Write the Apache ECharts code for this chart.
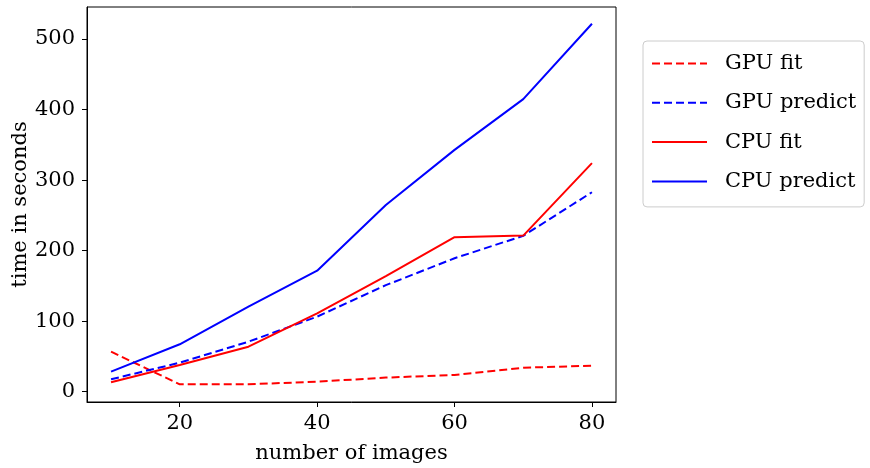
<!DOCTYPE html>
<html>
<head>
<meta charset="utf-8">
<script src="https://cdn.jsdelivr.net/npm/echarts@6/dist/echarts.min.js"></script>
<style>
  html, body { margin: 0; padding: 0; background: #fff; }
  #chart { width: 870px; height: 468px; }
</style>
</head>
<body>
<div id="chart"></div>
<script>
  // number of images
  const images = [10, 20, 30, 40, 50, 60, 70, 80];
  // time in seconds
  const gpuFit = [56.7, 10.5, 10.5, 14.2, 20, 23.7, 34, 36.9];
  const gpuPredict = [17.6, 41.1, 70.9, 106.4, 151, 189.2, 221, 282.8];
  const cpuFit = [13.3, 37.9, 63.8, 111, 164, 219, 221.3, 324];
  const cpuPredict = [28.4, 67.2, 120.6, 171.6, 264.8, 342.8, 414.8, 521.6];
  const xTicks = [20, 40, 60, 80];
  const yTicks = [0, 100, 200, 300, 400, 500];

  const font = 'DejaVu Serif';

  function pairs(ys) {
    return images.map((x, i) => [x, ys[i]]);
  }

  function line(name, ys, color, dashed) {
    return {
      name: name,
      type: 'line',
      data: pairs(ys),
      symbol: 'none',
      showSymbol: false,
      lineStyle: { color: color, width: 2, type: dashed ? [8, 4] : 'solid' },
      itemStyle: { color: color },
      emphasis: { disabled: true }
    };
  }

  let myChart = echarts.init(document.getElementById('chart'));

  myChart.setOption({
    animation: false,
    grid: {
      left: 87, top: 7, right: 254, bottom: 66,
      containLabel: false,
      outerBoundsMode: 'none',
      show: true, borderColor: '#000', borderWidth: 1, backgroundColor: 'transparent'
    },
    legend: {
      orient: 'vertical',
      left: 643, top: 41,
      width: 226,
      padding: [12, 8, 15, 8],
      itemGap: 18.3,
      itemWidth: 55,
      itemHeight: 14,
      borderColor: '#cccccc',
      borderWidth: 1,
      borderRadius: 4,
      backgroundColor: '#fff',
      // hide the circle that line series put in their legend icon
      itemStyle: { color: 'transparent', borderColor: 'transparent', borderWidth: 0, opacity: 0 },
      textStyle: { fontFamily: font, fontSize: 21, color: '#000', padding: [0, 10, 0, 13] },
      data: ['GPU fit', 'GPU predict', 'CPU fit', 'CPU predict']
    },
    xAxis: {
      type: 'value',
      min: 6.5, max: 83.5,
      name: 'number of images',
      nameLocation: 'middle',
      nameGap: 41,
      nameMoveOverlap: false,
      nameTextStyle: { fontFamily: font, fontSize: 21, color: '#000' },
      axisLine: { show: true, onZero: false, lineStyle: { color: '#000', width: 1 } },
      axisTick: { show: true, inside: false, length: 5, customValues: xTicks, lineStyle: { color: '#000' } },
      axisLabel: { customValues: xTicks, fontFamily: font, fontSize: 21, color: '#000', margin: 11 },
      splitLine: { show: false }
    },
    yAxis: {
      type: 'value',
      min: -14.6, max: 545.4,
      name: 'time in seconds',
      nameLocation: 'middle',
      nameGap: 56,
      nameMoveOverlap: false,
      nameTextStyle: { fontFamily: font, fontSize: 21, color: '#000' },
      axisLine: { show: true, onZero: false, lineStyle: { color: '#000', width: 1 } },
      axisTick: { show: true, inside: false, length: 5, customValues: yTicks, lineStyle: { color: '#000' } },
      axisLabel: { customValues: yTicks, fontFamily: font, fontSize: 21, color: '#000', margin: 12 },
      splitLine: { show: false }
    },
    series: [
      line('GPU fit', gpuFit, '#ff0000', true),
      line('GPU predict', gpuPredict, '#0000ff', true),
      line('CPU fit', cpuFit, '#ff0000', false),
      line('CPU predict', cpuPredict, '#0000ff', false)
    ]
  });
</script>
</body>
</html>
